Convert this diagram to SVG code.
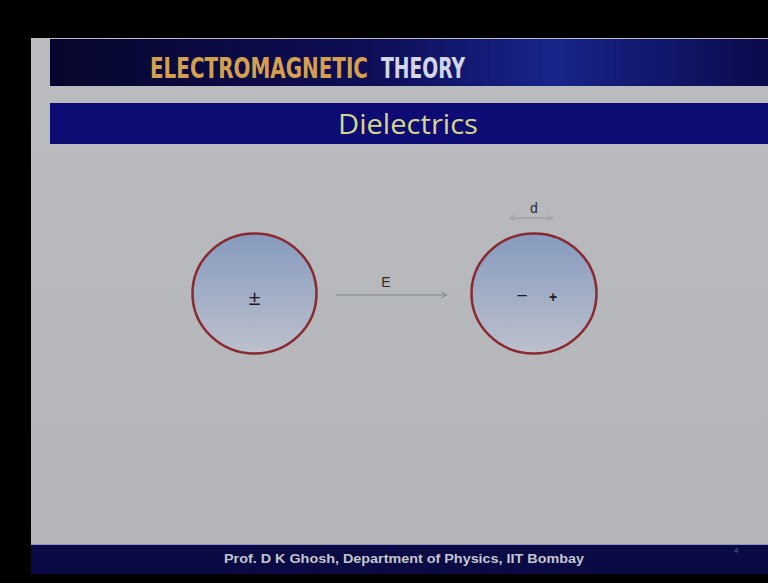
<svg xmlns="http://www.w3.org/2000/svg" width="768" height="583" viewBox="0 0 768 583">
<defs>
<linearGradient id="hdr" x1="0" y1="0" x2="1" y2="0">
<stop offset="0" stop-color="#06062c"/>
<stop offset="0.45" stop-color="#0e0e58"/>
<stop offset="0.7" stop-color="#18248a"/>
<stop offset="1" stop-color="#0a0a4c"/>
</linearGradient>
<linearGradient id="bg" x1="0" y1="0" x2="0" y2="1">
<stop offset="0" stop-color="#babcc0"/>
<stop offset="1" stop-color="#b4b5b9"/>
</linearGradient>
<linearGradient id="ball" x1="0" y1="0" x2="0" y2="1">
<stop offset="0" stop-color="#869bbf"/>
<stop offset="1" stop-color="#bcc0cc"/>
</linearGradient>
<marker id="ah" viewBox="0 0 10 10" refX="9" refY="5" markerWidth="8" markerHeight="8" markerUnits="userSpaceOnUse" orient="auto-start-reverse">
<path d="M1,1 L9,5 L1,9" fill="none" stroke="#7d8590" stroke-width="1.2"/>
</marker>
<marker id="ahd" viewBox="0 0 10 10" refX="9" refY="5" markerWidth="7" markerHeight="7" markerUnits="userSpaceOnUse" orient="auto-start-reverse">
<path d="M1,1 L9,5 L1,9" fill="none" stroke="#9da1aa" stroke-width="1.3"/>
</marker>
</defs>
<style>
.ball{fill:url(#ball);stroke:#8a2a30;stroke-width:2.5}
.sym{font-family:"Liberation Sans",Arial,sans-serif;fill:#1a1a22}
.lbl{font-family:"Liberation Sans",Arial,sans-serif;fill:#2a2a33;font-size:14px}
.hd{font-family:"DejaVu Sans Condensed","Liberation Sans",sans-serif;font-weight:bold;font-size:22px}
</style>
<rect width="768" height="583" fill="#000"/>
<rect x="31" y="38" width="737" height="506" fill="url(#bg)"/>
<g id="header">
<rect x="50" y="39" width="718" height="47" fill="url(#hdr)"/>
<g transform="translate(0,78) scale(1,1.25)">
<text class="hd" x="150" y="0" fill="#d4a050" textLength="218" lengthAdjust="spacingAndGlyphs">ELECTROMAGNETIC</text>
<text class="hd" x="381" y="0" fill="#d4d6e6" textLength="84" lengthAdjust="spacingAndGlyphs">THEORY</text>
</g>
</g>
<g id="title">
<rect x="50" y="103" width="718" height="41" fill="#0c0c74"/>
<text x="408" y="134" text-anchor="middle" font-family="'Open Sans','Liberation Sans',sans-serif" font-size="27" fill="#d6d68c" textLength="140" lengthAdjust="spacingAndGlyphs">Dielectrics</text>
</g>
<g id="atom-unpolarized">
<ellipse class="ball" cx="254.5" cy="293.5" rx="62" ry="60"/>
<text class="sym" x="254.5" y="305" text-anchor="middle" font-size="21">±</text>
</g>
<g id="atom-polarized">
<ellipse class="ball" cx="534" cy="293.5" rx="62.5" ry="60"/>
<text class="sym" x="522" y="302" text-anchor="middle" font-size="19">−</text>
<text class="sym" x="553" y="302" text-anchor="middle" font-size="14" font-weight="bold">+</text>
</g>
<g id="connectors">
<line x1="336" y1="295" x2="447" y2="295" stroke="#7d8590" stroke-width="1.2" marker-end="url(#ah)"/>
<line x1="510" y1="218" x2="553" y2="218" stroke="#9da1aa" stroke-width="1.3" marker-start="url(#ahd)" marker-end="url(#ahd)"/>
</g>
<text class="lbl" x="386" y="287" text-anchor="middle">E</text>
<text class="lbl" x="534" y="213" text-anchor="middle">d</text>
<g id="footer">
<rect x="31" y="544" width="737" height="30" fill="#0a0a44"/>
<line x1="31" y1="544.5" x2="768" y2="544.5" stroke="#8a90c0" stroke-width="1"/>
<text x="224" y="563" font-family="'Liberation Sans',Arial,sans-serif" font-weight="bold" font-size="13" fill="#c4c6d0" textLength="360" lengthAdjust="spacingAndGlyphs">Prof. D K Ghosh, Department of Physics, IIT Bombay</text>
<text x="734" y="553" font-family="'Liberation Sans',Arial,sans-serif" font-size="8" fill="#5a5c88">4</text>
</g>
</svg>
